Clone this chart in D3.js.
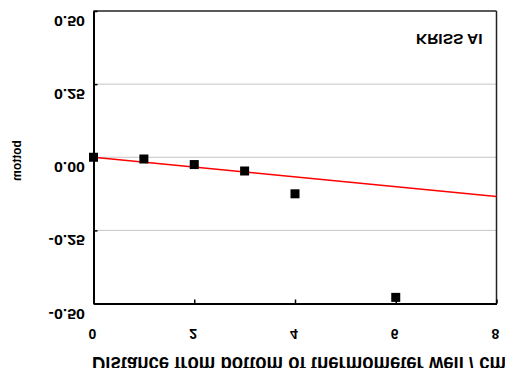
<!DOCTYPE html>
<html>
<head>
<meta charset="utf-8">
<script src="https://cdn.jsdelivr.net/npm/d3@7"></script>
<style>
  html, body { margin: 0; padding: 0; background: #fff; }
  svg { display: block; }
  text { font-family: "Liberation Sans", Arial, sans-serif; font-weight: bold; fill: #000; }
</style>
</head>
<body>
<svg id="chart" width="505" height="368"></svg>
<script>
// ---- data ----
const distances = [0, 1, 2, 3, 4, 6];
const deviations = [0.0, -0.006, -0.025, -0.047, -0.125, -0.479];
const fitX = [0, 8];
const fitY = [0.0, -0.134];
const xTicks = [0, 2, 4, 6, 8];
const yTicks = [0.5, 0.25, 0.0, -0.25, -0.5];
const yTickLabels = ["0.50", "0.25", "0.00", "-0.25", "-0.50"];
const gridValues = [0.25, 0.0, -0.25];
const xTitle = "Distance from bottom of thermometer well / cm";
const yTitle = "bottom";
const seriesLabel = "KRISS AI";

// ---- layout ----
const svg = d3.select("#chart");
const pLeft = 93.5, pRight = 496.5, pTop = 11, pBottom = 303.5;
const x = d3.scaleLinear().domain([0, 8]).range([pLeft, pRight]);
const y = d3.scaleLinear().domain([-0.5, 0.5]).range([pBottom, pTop]);

// gridlines
svg.append("g").selectAll("line").data(gridValues).join("line")
  .attr("x1", pLeft).attr("x2", pRight)
  .attr("y1", d => y(d)).attr("y2", d => y(d))
  .attr("stroke", "#c4c4c4").attr("stroke-width", 1);

// frame top/right
svg.append("line").attr("x1", pLeft).attr("x2", pRight).attr("y1", pTop).attr("y2", pTop)
  .attr("stroke", "#222").attr("stroke-width", 1.5);
svg.append("line").attr("x1", pRight).attr("x2", pRight).attr("y1", pTop).attr("y2", pBottom)
  .attr("stroke", "#222").attr("stroke-width", 1.5);

// axes with inward ticks
const xAxis = d3.axisBottom(x).tickValues(xTicks).tickSizeInner(-4).tickSizeOuter(0).tickFormat("");
const gx = svg.append("g").attr("transform", `translate(0,${pBottom})`).call(xAxis);
const yAxis = d3.axisLeft(y).tickValues(yTicks).tickSizeInner(-4).tickSizeOuter(0).tickFormat("");
const gy = svg.append("g").attr("transform", `translate(${pLeft},0)`).call(yAxis);
[gx, gy].forEach(g => {
  g.select(".domain").attr("stroke", "#000").attr("stroke-width", 2);
  g.selectAll(".tick line").attr("stroke", "#000").attr("stroke-width", 1.5);
});

// y tick labels (vertically mirrored glyphs)
svg.append("g").selectAll("text").data(yTicks).join("text")
  .attr("transform", d => `translate(85,${y(d) + 5}) scale(1,-0.86)`)
  .attr("text-anchor", "end")
  .style("font-size", "16px")
  .text((d, i) => yTickLabels[i]);

// x tick labels
svg.append("g").selectAll("text").data(xTicks).join("text")
  .attr("transform", d => `translate(${x(d) - 1},329) scale(1,-1)`)
  .attr("text-anchor", "middle")
  .style("font-size", "14px")
  .text(d => d);

// x title (clipped at bottom of picture)
svg.append("text")
  .attr("transform", `translate(92,357) scale(1,-1)`)
  .attr("textLength", 414).attr("lengthAdjust", "spacingAndGlyphs")
  .style("font-size", "22px")
  .text(xTitle);

// y title fragment
svg.append("text")
  .attr("transform", `translate(21,160.5) scale(1,-1) rotate(-90)`)
  .attr("text-anchor", "middle")
  .style("font-size", "12px")
  .text(yTitle);

// series label
svg.append("text")
  .attr("transform", `translate(416,33.5) scale(1,-0.98)`)
  .style("font-size", "15.5px")
  .text(seriesLabel);

// fit line
svg.append("path")
  .datum(fitX.map((d, i) => [d, fitY[i]]))
  .attr("d", d3.line().x(d => x(d[0])).y(d => y(d[1])))
  .attr("fill", "none").attr("stroke", "#ff0000").attr("stroke-width", 1.5);

// markers
const s = 9;
svg.append("g").selectAll("rect").data(distances).join("rect")
  .attr("x", d => x(d) - s / 2)
  .attr("y", (d, i) => y(deviations[i]) - s / 2)
  .attr("width", s).attr("height", s)
  .attr("fill", "#000");
</script>
</body>
</html>
